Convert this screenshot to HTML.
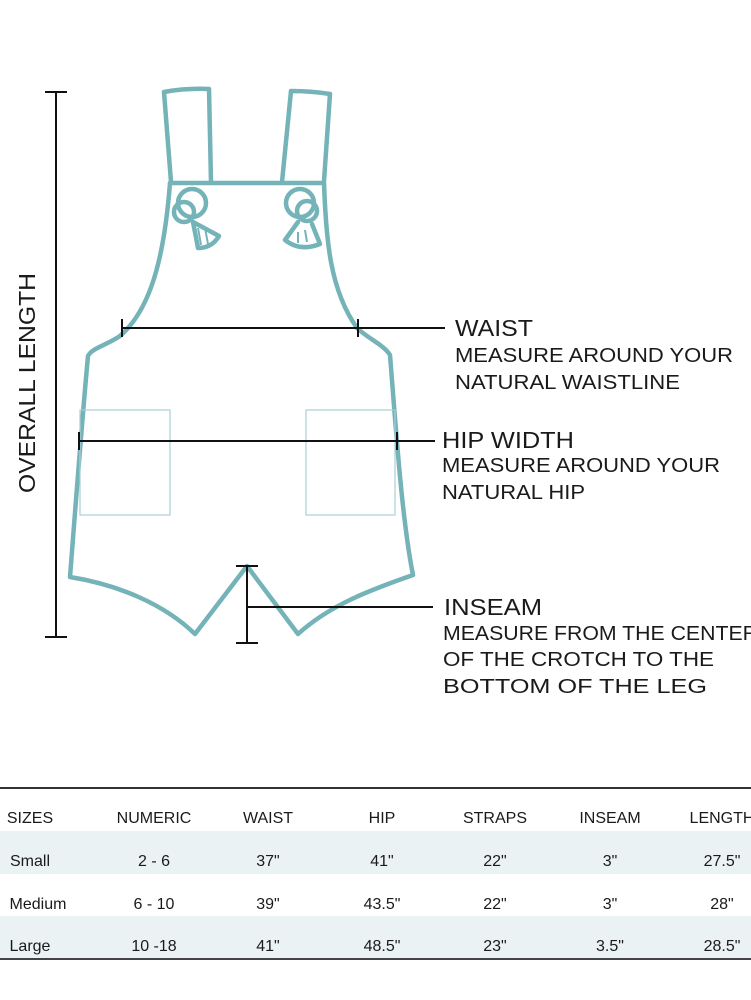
<!DOCTYPE html>
<html><head><meta charset="utf-8"><style>
html,body{margin:0;padding:0;background:#fff;}
svg{display:block;}
text{font-family:"Liberation Sans",sans-serif;fill:#1a1a1a;}
</style></head><body>
<svg width="751" height="1000" viewBox="0 0 751 1000" xmlns="http://www.w3.org/2000/svg">
<g fill="none" stroke="#74b3b8" stroke-width="4.5" stroke-linejoin="round" stroke-linecap="round">
  <path d="M171,182 L164,92 Q186,88 209,89 L211,182"/>
  <path d="M282,182 L291,91 Q311,91 330,94 L324,181"/>
  <path d="M170,183 L324,183"/>
  <path d="M170,183 C164,260 150,310 120,336 C105,346 92,348 88,356 C82,420 76,500 70,577 C120,585 165,605 195,634 L247,566 L298,634 C330,605 370,590 413,575 C402,520 396,430 390,355 C384,345 370,340 357,328 C330,290 326,240 324,183"/>
  <circle cx="192" cy="203" r="14"/>
  <circle cx="184" cy="212" r="10"/>
  <path d="M193,222 L219,236 Q212,248 198,248 Z"/>
  <circle cx="300" cy="203" r="14"/>
  <circle cx="307" cy="211" r="10"/>
  <path d="M298,222 L285,240 Q300,252 320,244 L312,224"/>
</g>
<g stroke="#74b3b8" stroke-width="2" fill="none">
  <path d="M198,228 L201,245 M205,228 L208,244"/>
  <path d="M298,232 L298,243 M305,230 L307,242"/>
</g>
<g fill="none" stroke="#a9cfd1" stroke-width="1.2">
  <rect x="80" y="410" width="90" height="105"/>
  <rect x="306" y="410" width="89" height="105"/>
</g>
<g stroke="#111" stroke-width="2" fill="none">
  <path d="M56,92 V637 M45,92 H67 M45,637 H67"/>
  <path d="M122,328 H445 M122,319 V337 M358,319 V337"/>
  <path d="M79,441 H435 M79,432 V450 M397,432 V450"/>
  <path d="M247,566 V643 M236,566 H258 M236,643 H258 M247,607 H433"/>
</g>
<text transform="translate(35,383) rotate(-90)" font-size="23" text-anchor="middle" textLength="220" lengthAdjust="spacingAndGlyphs">OVERALL LENGTH</text>
<g font-size="23">
  <text x="455" y="336" textLength="78" lengthAdjust="spacingAndGlyphs">WAIST</text>
  <text x="442" y="448" textLength="132" lengthAdjust="spacingAndGlyphs">HIP WIDTH</text>
  <text x="444" y="615" textLength="98" lengthAdjust="spacingAndGlyphs">INSEAM</text>
</g>
<g font-size="20" fill="#222">
  <text x="455" y="362" textLength="278" lengthAdjust="spacingAndGlyphs">MEASURE AROUND YOUR</text>
  <text x="455" y="389" textLength="225" lengthAdjust="spacingAndGlyphs">NATURAL WAISTLINE</text>
  <text x="442" y="472" textLength="278" lengthAdjust="spacingAndGlyphs">MEASURE AROUND YOUR</text>
  <text x="442" y="499" textLength="143" lengthAdjust="spacingAndGlyphs">NATURAL HIP</text>
  <text x="443" y="640" textLength="315" lengthAdjust="spacingAndGlyphs">MEASURE FROM THE CENTER</text>
  <text x="443" y="666" textLength="271" lengthAdjust="spacingAndGlyphs">OF THE CROTCH TO THE</text>
  <text x="443" y="693" textLength="264" lengthAdjust="spacingAndGlyphs">BOTTOM OF THE LEG</text>
</g>
<rect x="0" y="831" width="751" height="43" fill="#ebf2f4"/>
<rect x="0" y="916" width="751" height="43" fill="#ebf2f4"/>
<line x1="0" y1="788" x2="751" y2="788" stroke="#333" stroke-width="2"/>
<line x1="0" y1="959" x2="751" y2="959" stroke="#444" stroke-width="2"/>
<g font-size="16" text-anchor="middle" fill="#222">
  <text x="30" y="823">SIZES</text><text x="154" y="823">NUMERIC</text><text x="268" y="823">WAIST</text><text x="382" y="823">HIP</text><text x="495" y="823">STRAPS</text><text x="610" y="823">INSEAM</text><text x="722" y="823">LENGTH</text>
  <text x="30" y="866">Small</text><text x="154" y="866">2 - 6</text><text x="268" y="866">37"</text><text x="382" y="866">41"</text><text x="495" y="866">22"</text><text x="610" y="866">3"</text><text x="722" y="866">27.5"</text>
  <text x="38" y="909">Medium</text><text x="154" y="909">6 - 10</text><text x="268" y="909">39"</text><text x="382" y="909">43.5"</text><text x="495" y="909">22"</text><text x="610" y="909">3"</text><text x="722" y="909">28"</text>
  <text x="30" y="951">Large</text><text x="154" y="951">10 -18</text><text x="268" y="951">41"</text><text x="382" y="951">48.5"</text><text x="495" y="951">23"</text><text x="610" y="951">3.5"</text><text x="722" y="951">28.5"</text>
</g>
</svg>
</body></html>
